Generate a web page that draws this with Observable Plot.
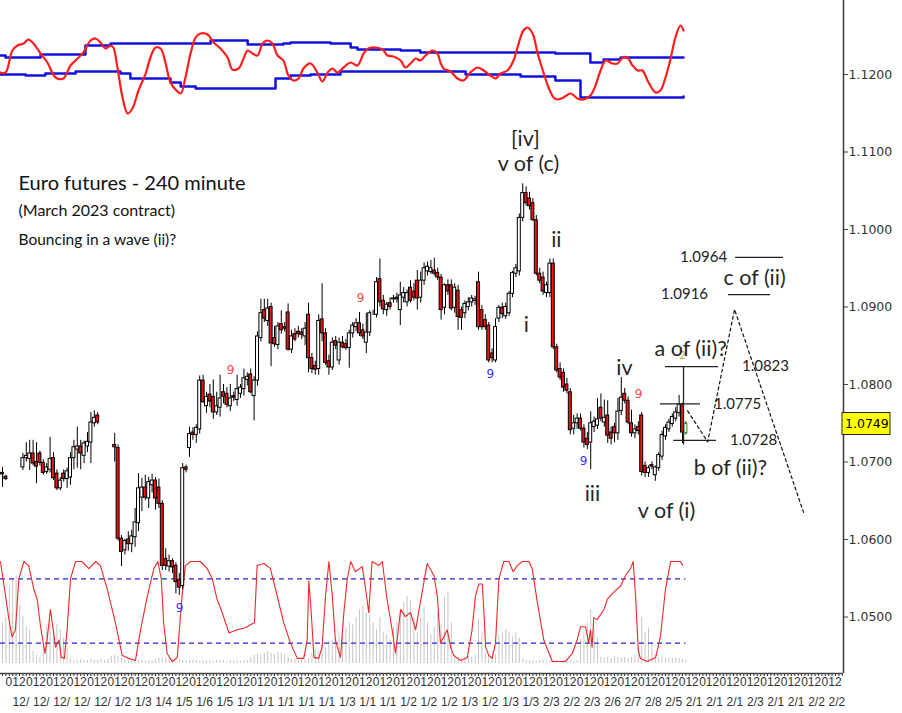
<!DOCTYPE html>
<html><head><meta charset="utf-8">
<script src="https://cdn.jsdelivr.net/npm/d3@7"></script>
<script src="https://cdn.jsdelivr.net/npm/@observablehq/plot@0.6"></script>
<style>
html,body{margin:0;padding:0;background:#fff;}
#chart{position:relative;width:902px;height:713px;overflow:hidden;background:#fff;}
#chart svg{position:absolute;left:0;top:0;}
</style>
</head><body><div id="chart"></div>
<script>
// ---------------- DATA ----------------
// Candles [open, high, low, close], 240-minute bars; each segment starts at a bar index
const candlesDecA = [
[1.0686,1.0693,1.0667,1.0684],[1.0681,1.0683,1.0676,1.0678]];
const candlesDecB = [
[1.0693,1.0711,1.0689,1.0705],[1.0705,1.0725,1.0700,1.0708],[1.0704,1.0728,1.0689,1.0711],[1.0711,1.0728,1.0695,1.0698],
[1.0700,1.0725,1.0672,1.0694],[1.0711,1.0714,1.0695,1.0699],[1.0699,1.0703,1.0683,1.0686],[1.0687,1.0698,1.0684,1.0693],
[1.0690,1.0732,1.0686,1.0704],[1.0705,1.0712,1.0676,1.0679],[1.0685,1.0690,1.0663,1.0666],[1.0666,1.0680,1.0663,1.0676],
[1.0685,1.0690,1.0674,1.0678],[1.0678,1.0692,1.0666,1.0688],[1.0680,1.0712,1.0670,1.0705],[1.0705,1.0728,1.0690,1.0719],
[1.0716,1.0745,1.0692,1.0720],[1.0720,1.0728,1.0690,1.0711],[1.0708,1.0727,1.0698,1.0724],[1.0720,1.0738,1.0712,1.0726],
[1.0725,1.0764,1.0698,1.0751],[1.0750,1.0766,1.0745,1.0757],[1.0760,1.0764,1.0748,1.0751]];
const candlesJanA = [
[1.0722,1.0737,1.0700,1.0719],[1.0718,1.0722,1.0598,1.0601],[1.0601,1.0605,1.0565,1.0584],[1.0586,1.0600,1.0580,1.0598],
[1.0600,1.0610,1.0585,1.0594],[1.0594,1.0612,1.0583,1.0604],[1.0603,1.0640,1.0590,1.0622],[1.0621,1.0685,1.0610,1.0666],
[1.0654,1.0679,1.0636,1.0667],[1.0667,1.0683,1.0650,1.0654],[1.0653,1.0680,1.0640,1.0674],[1.0670,1.0684,1.0660,1.0676],
[1.0676,1.0680,1.0638,1.0653],[1.0667,1.0678,1.0640,1.0646],[1.0646,1.0650,1.0560,1.0566],[1.0575,1.0588,1.0560,1.0566],
[1.0565,1.0580,1.0558,1.0572],[1.0572,1.0575,1.0556,1.0564],[1.0566,1.0570,1.0530,1.0545],[1.0548,1.0556,1.0528,1.0538],
[1.0540,1.0698,1.0535,1.0692],[1.0693,1.0696,1.0686,1.0690]];
const candlesJanB = [
[1.0718,1.0745,1.0706,1.0736],[1.0738,1.0744,1.0728,1.0735],[1.0735,1.0748,1.0724,1.0744],[1.0742,1.0811,1.0736,1.0805],
[1.0805,1.0812,1.0776,1.0777],[1.0772,1.0790,1.0763,1.0784],[1.0787,1.0800,1.0770,1.0778],[1.0784,1.0806,1.0755,1.0764],
[1.0764,1.0790,1.0760,1.0772],[1.0770,1.0812,1.0758,1.0782],[1.0790,1.0800,1.0775,1.0784],[1.0788,1.0796,1.0770,1.0774],
[1.0772,1.0800,1.0765,1.0782],[1.0785,1.0790,1.0778,1.0783],[1.0780,1.0812,1.0772,1.0794],[1.0788,1.0800,1.0782,1.0796],
[1.0794,1.0820,1.0785,1.0808],[1.0806,1.0815,1.0798,1.0810],[1.0813,1.0820,1.0788,1.0790],[1.0785,1.0810,1.0753,1.0805],
[1.0805,1.0868,1.0798,1.0862],[1.0860,1.0910,1.0855,1.0892],[1.0896,1.0910,1.0880,1.0885],[1.0882,1.0910,1.0875,1.0898],
[1.0900,1.0905,1.0823,1.0853],[1.0860,1.0875,1.0848,1.0852],[1.0851,1.0880,1.0845,1.0875],[1.0878,1.0895,1.0865,1.0870],
[1.0874,1.0880,1.0868,1.0872],[1.0893,1.0904,1.0843,1.0845],[1.0845,1.0870,1.0840,1.0862],[1.0865,1.0872,1.0855,1.0858]];
const candlesJanC = [
[1.0868,1.0875,1.0860,1.0865],[1.0867,1.0872,1.0858,1.0864],[1.0862,1.0880,1.0850,1.0872],[1.0890,1.0905,1.0815,1.0834],
[1.0834,1.0840,1.0814,1.0820],[1.0824,1.0830,1.0812,1.0819],[1.0820,1.0890,1.0812,1.0882],[1.0884,1.0930,1.0855,1.0866],
[1.0866,1.0872,1.0825,1.0828],[1.0830,1.0838,1.0812,1.0822],[1.0822,1.0860,1.0818,1.0854],[1.0856,1.0862,1.0845,1.0850],
[1.0831,1.0860,1.0825,1.0854],[1.0854,1.0862,1.0846,1.0848],[1.0852,1.0858,1.0844,1.0847],[1.0847,1.0870,1.0821,1.0866],
[1.0866,1.0880,1.0860,1.0876],[1.0874,1.0885,1.0868,1.0879],[1.0879,1.0893,1.0862,1.0866],[1.0870,1.0878,1.0858,1.0862],
[1.0854,1.0892,1.0840,1.0867],[1.0867,1.0895,1.0862,1.0892],[1.0893,1.0896,1.0889,1.0893],[1.0890,1.0938,1.0886,1.0932],
[1.0936,1.0962,1.0900,1.0906],[1.0908,1.0915,1.0890,1.0897],[1.0896,1.0906,1.0888,1.0903],[1.0905,1.0912,1.0896,1.0900],
[1.0911,1.0915,1.0905,1.0910],[1.0912,1.0918,1.0905,1.0910],[1.0896,1.0932,1.0876,1.0915],[1.0912,1.0925,1.0905,1.0918],
[1.0906,1.0922,1.0900,1.0918],[1.0925,1.0934,1.0905,1.0908]];
const candlesJanD = [
[1.0920,1.0930,1.0908,1.0912],[1.0934,1.0947,1.0896,1.0911],[1.0912,1.0945,1.0905,1.0934],[1.0934,1.0957,1.0928,1.0950],
[1.0946,1.0958,1.0940,1.0952],[1.0945,1.0960,1.0942,1.0950],[1.0947,1.0963,1.0940,1.0943],[1.0944,1.0950,1.0934,1.0938],
[1.0938,1.0942,1.0883,1.0896],[1.0899,1.0930,1.0890,1.0928],[1.0928,1.0935,1.0915,1.0920],[1.0928,1.0935,1.0895,1.0898],
[1.0899,1.0930,1.0892,1.0925],[1.0921,1.0928,1.0870,1.0887],[1.0896,1.0900,1.0870,1.0886],[1.0892,1.0908,1.0885,1.0904],
[1.0900,1.0912,1.0895,1.0906],[1.0906,1.0915,1.0900,1.0911],[1.0908,1.0914,1.0902,1.0910],[1.0932,1.0945,1.0870,1.0874],
[1.0896,1.0902,1.0870,1.0874],[1.0883,1.0890,1.0870,1.0874],[1.0876,1.0880,1.0828,1.0831],[1.0840,1.0846,1.0828,1.0834],
[1.0831,1.0885,1.0828,1.0874],[1.0885,1.0902,1.0880,1.0899],[1.0899,1.0905,1.0885,1.0891],[1.0888,1.0905,1.0884,1.0900],
[1.0892,1.0920,1.0888,1.0917],[1.0917,1.0946,1.0912,1.0944],[1.0943,1.0955,1.0938,1.0950],[1.0946,1.1020,1.0940,1.1015]];
const candlesFeb = [
[1.1015,1.1059,1.1010,1.1047],[1.1047,1.1055,1.1030,1.1034],[1.1040,1.1048,1.1025,1.1030],[1.1034,1.1040,1.1010,1.1012],
[1.1012,1.1018,1.0940,1.0943],[1.0943,1.0950,1.0930,1.0934],[1.0938,1.0945,1.0915,1.0920],[1.0918,1.0932,1.0912,1.0928],
[1.0918,1.0962,1.0912,1.0956],[1.0956,1.0962,1.0845,1.0848],[1.0848,1.0852,1.0815,1.0818],[1.0820,1.0828,1.0805,1.0809],
[1.0815,1.0820,1.0790,1.0796],[1.0800,1.0808,1.0788,1.0792],[1.0790,1.0795,1.0735,1.0741],[1.0743,1.0760,1.0735,1.0750],
[1.0750,1.0762,1.0742,1.0756],[1.0756,1.0762,1.0740,1.0743],[1.0743,1.0748,1.0718,1.0725],[1.0730,1.0738,1.0716,1.0722],
[1.0725,1.0765,1.0690,1.0750],[1.0745,1.0758,1.0738,1.0752],[1.0747,1.0782,1.0742,1.0755],[1.0770,1.0788,1.0752,1.0756],
[1.0751,1.0780,1.0745,1.0757],[1.0760,1.0779,1.0724,1.0734],[1.0738,1.0745,1.0722,1.0730],[1.0745,1.0750,1.0725,1.0737],
[1.0737,1.0782,1.0728,1.0765],[1.0766,1.0809,1.0760,1.0783],[1.0788,1.0795,1.0775,1.0779],[1.0779,1.0784,1.0748,1.0751],
[1.0750,1.0767,1.0732,1.0737],[1.0737,1.0748,1.0730,1.0742],[1.0745,1.0752,1.0735,1.0740],[1.0760,1.0764,1.0682,1.0687],
[1.0695,1.0700,1.0680,1.0686],[1.0686,1.0695,1.0680,1.0692],[1.0696,1.0700,1.0690,1.0694],[1.0683,1.0695,1.0675,1.0693],
[1.0692,1.0712,1.0688,1.0709],[1.0707,1.0740,1.0702,1.0735],[1.0733,1.0748,1.0728,1.0744],[1.0742,1.0755,1.0738,1.0751],
[1.0749,1.0762,1.0745,1.0758],[1.0756,1.0770,1.0752,1.0764],[1.0763,1.0786,1.0758,1.0774],[1.0774,1.0776,1.0724,1.0738],
[1.0737,1.0752,1.0735,1.0749]];
const segmentStarts = [0, 6, 33, 55, 87, 121, 153];

// Volume histogram (lower panel, 0-100 units), one value per bar from bar 0
const volDecember = [40,45,75,83,86,56,46,36,33,12,8,6,20,35,41,30,38,33,25,15,4,3,3,4,3,3,4,3,3,4,3,4,7];
const volJanuaryA = [8,7,5,3,3,3,3,3,3,3,3,3,4,5,6,5,6,4,5,4,3,3,3,3,3,2,3,3,3,2,3,3,3,2,3,3,3,2,3,3,6,8,9,8,10,12,10,9,11,10,8,6,4,4];
const volJanuaryB = [3,4,4,5,10,14,12,18,16,22,23,25,30,28,35,40,38,45,53,56,50,58,40,33,45,30,28,23,35,40,50,60,66,62,45,30,45,55,40,28,35,50,38,66,70,40,8,6,5,6,7,6,8,43,30,10,8,12,9,28,30,33,30,26,30,25];
const volFebruary = [4,3,3,3,2,3,3,2,3,3,3,2,3,3,3,2,3,23,30,40,53,35,25,6,5,6,5,7,6,5,6,5,6,7,16,45,30,35,20,8,6,7,5,6,5,6,5,4,3];

// Lower oscillator [bar, value 0-100] and its dashed levels
const stochLine = [[-0.6,100],[0.9,66],[1.9,43],[2.8,26],[3.8,33],[4.8,83],[6.3,100],[7.7,96],[9.2,73],[10.2,63],[11.2,36],[12.5,10],[13.1,23],[14.1,53],[14.9,33],[15.6,16],[16.6,23],[17.3,6],[18.2,5],[19,33],[20,83],[21.5,100],[23.4,100],[25.4,93],[27.4,100],[28.8,96],[30.8,73],[33.2,40],[35.2,8],[37.1,5],[39.1,3],[40.6,33],[42.6,66],[44.5,93],[45.7,100],[46.7,83],[47.4,40],[48.4,10],[49.9,2],[51.4,6],[52.8,66],[53.8,96],[55.3,100],[58.2,100],[60.2,93],[61.7,83],[63.1,63],[64.6,50],[66.6,30],[69,33],[71.5,35],[72.9,38],[74.1,40],[74.9,96],[76.9,98],[78.8,93],[80.8,66],[82.7,40],[84.7,20],[86.7,5],[88.6,5],[89.6,23],[90.1,81],[90.8,50],[91.6,6],[93,5],[94,16],[95,66],[96,100],[97,66],[97.9,23],[99.4,6],[100.4,50],[101.4,83],[102.4,100],[103.8,90],[105.8,95],[106.8,73],[107.7,50],[108.7,100],[110.7,96],[111.7,100],[113.1,63],[114.6,33],[115.6,10],[117.1,53],[118.5,46],[120,50],[121.5,33],[122.9,60],[124.9,98],[126.9,86],[127.9,66],[128.8,20],[129.8,26],[130.8,33],[131.8,16],[132.7,8],[134.7,3],[136.7,6],[138.1,33],[139.1,66],[140.1,78],[141.1,78],[141.6,50],[142.1,16],[143,8],[144,5],[145,20],[146,83],[147.4,100],[148.9,100],[150.2,90],[151.4,96],[152.9,100],[154.8,100],[155.8,93],[157.3,60],[159.2,23],[161.7,2],[165.6,2],[167.6,10],[169,23],[170,36],[171.5,36],[172.4,20],[172.9,33],[173.4,16],[173.9,45],[174.9,43],[176.9,53],[177.9,63],[179.8,70],[181.8,76],[183.2,86],[184.7,93],[185.5,100],[186.2,66],[187,13],[187.6,5],[189.6,2],[192.1,6],[193.5,26],[195,73],[196.5,100],[198,100],[199.4,100],[200.1,96]];
const stochLevels = [83, 20];

// Upper oscillator [bar, value 0-100] with its two bands
const topOscRed = [[-0.6,48],[0.9,48],[2.9,70],[4.4,75],[6.2,77],[7.6,81],[9.1,77],[11.2,67],[13.2,58],[15.6,43],[17.9,42],[20,55],[22.1,62],[23.8,68],[25.9,80],[27.4,82],[28.8,78],[30.3,72],[31.8,75],[32.6,73],[33.8,53],[35.3,23],[36.8,7],[38.2,12],[40,30],[42.1,47],[43.5,63],[45,73],[46.5,72],[47.9,58],[49.4,38],[50.9,31],[52.4,27],[53.8,43],[55.3,67],[56.8,83],[58.2,87],[60.3,86],[62.1,78],[64.1,72],[66.2,63],[67.6,51],[69.4,52],[70.9,62],[72.1,70],[73.5,67],[75,65],[76.5,77],[77.9,80],[79.4,77],[80.9,65],[82.6,60],[84.1,45],[85.6,40],[87.1,42],[88.5,52],[90.6,57],[92.6,48],[94.1,39],[95.6,48],[97.1,52],[98.5,48],[100.3,53],[102.4,58],[104.4,55],[106.2,67],[107.6,72],[109.7,73],[111.8,71],[113.2,65],[115,64],[117.1,60],[118.5,53],[120,57],[121.5,62],[122.9,60],[124.4,65],[126.5,70],[127.9,67],[128.8,58],[129.7,52],[131.8,49],[133.8,42],[135.6,40],[137.6,48],[139.7,53],[141.5,50],[143.5,45],[145,42],[146.5,47],[148.5,50],[150.3,60],[151.8,77],[153.2,90],[154.4,93],[155.9,87],[157.4,67],[159.1,48],[160.6,33],[162.1,23],[163.2,21],[165,23],[167.1,27],[169.1,22],[170.9,21],[172.9,25],[174.4,35],[175.9,50],[177.4,60],[179.4,57],[180.9,57],[182.4,63],[183.8,63],[185.3,55],[186.8,50],[188.2,50],[190,38],[192.1,28],[193.5,30],[195,43],[196.5,62],[197.9,83],[199.4,95],[200.3,90]];
const topBandUpper = [[-0.6,65],[0.9,63],[11.2,66],[24.4,75],[31.8,77],[61.2,80],[72.1,76],[82.6,77],[84.7,78],[96.5,77],[102.4,73],[104.4,71],[117.1,70],[122.9,68],[162.6,67],[172.9,58],[176.8,61],[181.8,63],[200.3,63]];
const topBandLower = [[-0.6,46],[6.8,45],[12.6,47],[21.5,49],[34.7,47],[37.6,42],[49.4,38],[52.4,34],[56.8,32],[80.3,42],[84.7,45],[90.6,46],[99.4,49],[131.8,49],[136.2,46],[152.4,44],[162.6,40],[170,23],[200.3,24]];

// Annotations (bar, price)
const waveLabels = [["[iv]",153.8,1.1117],["v of (c)",154.7,1.1085],["ii",162.9,1.0986],["i",154.1,1.0876],["iv",182.9,1.0821],["iii",173.5,1.0659],["v of (i)",195.3,1.0636],["a of (ii)?",202.4,1.0846],["b of (ii)?",214.1,1.0692],["c of (ii)",221.2,1.0937]];
const fibLevels = [1.0964, 1.0916, 1.0823, 1.0775, 1.0728];
const fibLineStart = [215.6, 213.5, 195, 193.5, 197.4];
const fibLineEnd = [229.7, 225.9, 210.6, 205.3, 210];
const fibLabelBar = [206.2, 200.6, 224.4, 216.2, 220.9];
const fibStem = [[200.3, 1.0823, 1.0722]];
const projection = [[201.5,1.0766],[207.4,1.0726],[215.3,1.0897],[235.6,1.0635]];
const sellSetup9 = [[67.1,1.0818],[105.3,1.0911],[187.1,1.0788]];
const buySetup9 = [[143.5,1.0814],[170.9,1.0701],[52.1,1.0512]];
const countdown2 = [[200,1.0838]];
const titleLines = ["Euro futures - 240 minute", "(March 2023 contract)", "Bouncing in a wave (ii)?"];

// Axes
const priceTicks = [1.05, 1.06, 1.07, 1.08, 1.09, 1.10, 1.11, 1.12];
const dayLabelsTop = ["012","012","012","012","012","012","012","012","012","012","012","012","012","012","012","012","012","012","012","012","012","012","012","012","012","012","012","012","012","012","012","012","012","012","012","012","012","012","012","012","012"];
const dayLabelsBottom = ["12/","12/","12/","12/","12/","1/2","1/3","1/4","1/5","1/6","1/5","1/3","1/1","1/1","1/1","1/1","1/3","1/1","1/1","1/2","1/2","1/2","1/3","1/2","1/3","1/3","2/3","2/2","2/3","2/6","2/7","2/8","2/5","2/1","2/1","2/1","2/3","2/1","2/1","2/2","2/2"];

// ---------------- BUILD ----------------
const W = 902, H = 713, MR = 59, MB = 40;
const xDomain = [-0.59, 247.35];
const yDomain = [1.04271, 1.12955];
const segs = [candlesDecA, candlesDecB, candlesJanA, candlesJanB, candlesJanC, candlesJanD, candlesFeb];
const candles = segs.flatMap((rows, s) => rows.map(([o,h,l,c], k) => ({i: segmentStarts[s] + k, o, h, l, c})));
const lastBar = candles[candles.length - 1];
const volume = [...volDecember, ...volJanuaryA, ...volJanuaryB, ...volFebruary].map((v, i) => ({i, v}));
const dayTicks = dayLabelsTop.map((_, k) => 0.9 + 6 * k);
const topMap = new Map(dayTicks.map((t, k) => [t, dayLabelsTop[k]]));
const botMap = new Map(dayTicks.map((t, k) => [t, dayLabelsBottom[k]]));
const fib = fibLevels.map((p, k) => ({p, x1: fibLineStart[k], x2: fibLineEnd[k], lx: fibLabelBar[k]}));

const UI = "DejaVu Sans, Verdana, sans-serif";
const AX = "'Liberation Sans', Arial, sans-serif";
const NOTE = "Lato, 'Open Sans', sans-serif";
const common = {width: W, height: H, marginLeft: 0, marginRight: MR, marginTop: 0, marginBottom: MB,
  x: {domain: xDomain, axis: null}, style: {background: "transparent", fontFamily: UI, color: "#333"}};

const lowerPanel = Plot.plot({...common,
  y: {domain: [0, 100], range: [663, 561], axis: null},
  marks: [
    Plot.ruleX(volume, {x: "i", y1: 0, y2: "v", stroke: "#c6c6c6", strokeWidth: 1}),
    Plot.ruleY(stochLevels, {y: d => d, x1: xDomain[0], x2: lastBar.i, stroke: "#2323d8", strokeWidth: 1.3, strokeDasharray: "5,4"}),
    Plot.line(stochLine, {stroke: "#f02828", strokeWidth: 1.1})
  ]});

const upperPanel = Plot.plot({...common,
  y: {domain: [0, 100], range: [120, 20], axis: null},
  marks: [
    Plot.line(topBandUpper, {curve: "step-after", stroke: "#1212e0", strokeWidth: 2.5}),
    Plot.line(topBandLower, {curve: "step-after", stroke: "#1212e0", strokeWidth: 2.5}),
    Plot.line(topOscRed, {curve: "catmull-rom", stroke: "#ff1c1c", strokeWidth: 2.2})
  ]});

const RED = "#e81414";
const main = Plot.plot({...common,
  y: {domain: yDomain, axis: null},
  color: {type: "identity"},
  marks: [
    Plot.ruleX(candles, {x: "i", y1: "l", y2: "h", stroke: "#000", strokeWidth: 1}),
    Plot.rect(candles, {x1: d => d.i - 0.44, x2: d => d.i + 0.44, y1: "o", y2: "c",
      fill: d => d.c < d.o ? RED : "#fff", stroke: d => d === lastBar ? "#0a9a0a" : "#000", strokeWidth: 1}),
    Plot.text(sellSetup9, {text: () => "9", fill: "#ff4848", fontSize: 12}),
    Plot.text(buySetup9, {text: () => "9", fill: "#3232ff", fontSize: 12}),
    Plot.text(countdown2, {text: () => "2", fill: "#c4b038", fontSize: 11}),
    Plot.ruleY(fib, {y: "p", x1: "x1", x2: "x2", stroke: "#222", strokeWidth: 1.3}),
    Plot.ruleX(fibStem, {x: d => d[0], y1: d => d[1], y2: d => d[2], stroke: "#222", strokeWidth: 1.3}),
    Plot.line(projection, {stroke: "#111", strokeWidth: 1.2, strokeDasharray: "3,3"}),
    Plot.text(fib, {x: "lx", y: "p", text: d => d3.format(".4f")(d.p), fontSize: 15, fontFamily: NOTE, fill: "#222"}),
    Plot.text(waveLabels, {x: d => d[1], y: d => d[2], text: d => d[0], fontSize: 21.5, fontFamily: NOTE, fill: "#262626"}),
    Plot.text([titleLines[0]], {frameAnchor: "top-left", dx: 18, dy: 183, textAnchor: "start", lineAnchor: "middle", fontSize: 20, fontFamily: NOTE, fill: "#111"}),
    Plot.text([titleLines[1]], {frameAnchor: "top-left", dx: 18, dy: 210, textAnchor: "start", lineAnchor: "middle", fontSize: 16, fontFamily: NOTE, fill: "#111"}),
    Plot.text([titleLines[2]], {frameAnchor: "top-left", dx: 18, dy: 240, textAnchor: "start", lineAnchor: "middle", fontSize: 15.5, fontFamily: NOTE, fill: "#111"}),
    Plot.axisY(priceTicks, {anchor: "right", tickSize: 4, tickPadding: 1, tickFormat: d3.format(".4f"), fontSize: 12.5, stroke: "#444", label: null}),
    Plot.axisX(d3.range(0, 248), {anchor: "bottom", tickSize: 3, text: null, stroke: "#333", label: null}),
    Plot.axisX(dayTicks, {anchor: "bottom", tickSize: 0, tickPadding: 4, tickFormat: d => topMap.get(d), textAnchor: "start", fontFamily: AX, fontSize: 12, label: null}),
    Plot.axisX(dayTicks, {anchor: "bottom", tickSize: 0, tickPadding: 4, tickFormat: d => botMap.get(d), textAnchor: "start", dx: 7, dy: 20, fontFamily: AX, fontSize: 12, label: null}),
    Plot.ruleX([xDomain[1]], {stroke: "#444", strokeWidth: 1.6}),
    Plot.ruleY([yDomain[0]], {stroke: "#444", strokeWidth: 1.6})
  ]});

// current price box on the price axis
const yScale = main.scale("y");
const xScale = main.scale("x");
const py = yScale.apply(lastBar.c);
const px = xScale.apply(xDomain[1]);
const g = d3.select(main).append("g").attr("text-anchor", "start");
g.append("rect").attr("x", px - 1).attr("y", py - 11).attr("width", 48).attr("height", 22)
  .attr("fill", "#ffff00").attr("stroke", "#222").attr("stroke-width", 1);
g.append("text").attr("x", px + 2).attr("y", py).attr("dy", "0.35em").attr("text-anchor", "start")
  .attr("font-size", 12.5).attr("font-family", UI).attr("fill", "#000").text(d3.format(".4f")(lastBar.c));

const host = document.getElementById("chart");
host.append(lowerPanel, upperPanel, main);
</script></body></html>
